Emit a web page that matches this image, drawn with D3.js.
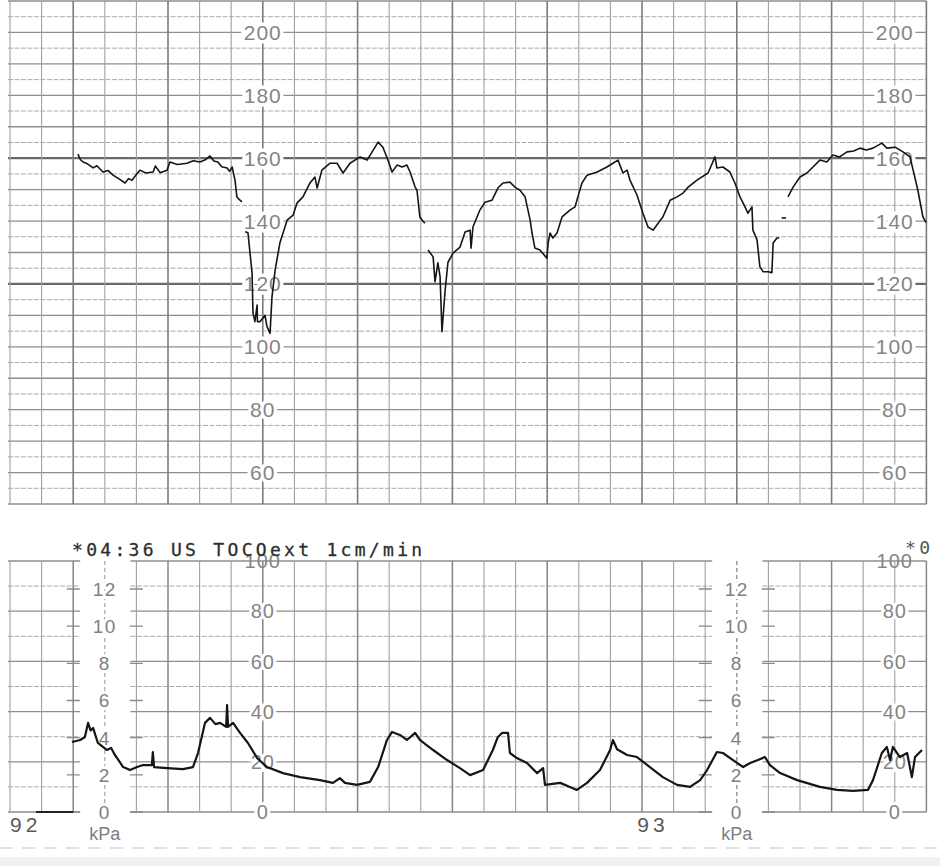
<!DOCTYPE html>
<html>
<head>
<meta charset="utf-8">
<script src="https://cdn.jsdelivr.net/npm/d3@7"></script>
<style>
  body { margin: 0; background: #fff; }
  svg { display: block; }
</style>
</head>
<body>
<script>
var width = 940;
var height = 866;

// time in minutes (1 grid column = 1 min at 1cm/min)
var fhrTicks = [60, 80, 100, 120, 140, 160, 180, 200];
var ucTicks = [0, 20, 40, 60, 80, 100];
var kpaTicks = [0, 2, 4, 6, 8, 10, 12];
var fhrLabelCols = [8, 28];
var ucLabelCols = [8, 28];
var kpaCols = [3, 23];
var header = "*04:36 US TOCOext 1cm/min";
var pageMarks = [{t: 0, label: "92"}, {t: 19.85, label: "93"}];

// FHR trace, bpm (pieces split where the signal drops out)
var fhrSeg1 = [[2.15,161.3],[2.23,159.5],[2.31,158.8],[2.45,158.2],[2.63,156.9],[2.75,157.6],[2.94,155.6],[3.1,156.1],[3.26,154.6],[3.45,153.4],[3.64,152.1],[3.75,153.5],[3.86,153],[4.0,154.8],[4.11,156.2],[4.3,155.3],[4.53,155.6],[4.6,157.5],[4.75,155.4],[4.97,156.2],[5.06,158.8],[5.3,158],[5.6,158.4],[5.8,159.2],[6.01,158.8],[6.2,159.6],[6.33,160.7],[6.45,159.1],[6.58,158.8],[6.7,157.3],[6.87,156.9],[6.95,155.8],[7.03,157.2],[7.12,153],[7.18,147.7],[7.26,146.8],[7.34,146.1]];
var fhrSeg2 = [[7.44,136.6],[7.53,136.3],[7.66,123.5],[7.69,110.8],[7.75,108],[7.82,113.3],[7.83,108],[7.91,108],[8.07,110],[8.13,106.5],[8.23,104.3],[8.29,115.8],[8.39,124.4],[8.54,133],[8.77,140.3],[8.96,141.9],[9.08,145.7],[9.27,147.7],[9.49,152.1],[9.65,154],[9.72,150.5],[9.87,156.2],[10.13,158.4],[10.35,158.4],[10.54,155.3],[10.76,158.4],[11.08,160.4],[11.3,159.4],[11.49,162.5],[11.65,165.1],[11.8,163.5],[11.96,159.4],[12.09,155.6],[12.25,157.8],[12.41,157.2],[12.56,157.8],[12.66,155.6],[12.82,150.8],[12.88,149.8],[12.97,141.3],[13.05,140.2],[13.13,139.3]];
var fhrSeg3 = [[13.23,130.8],[13.39,128.6],[13.45,120.7],[13.54,126.7],[13.61,122.3],[13.67,104.8],[13.77,118],[13.86,126.9],[14.02,129.8],[14.24,131.7],[14.4,136.5],[14.56,137.1],[14.59,131.4],[14.65,138.1],[14.87,143.5],[15.03,146],[15.25,146.6],[15.44,150.5],[15.6,152.1],[15.82,152.4],[15.98,150.8],[16.14,149.8],[16.3,147.7],[16.46,140.3],[16.52,136.2],[16.61,131.4],[16.77,130.8],[16.99,128.2],[17.03,133],[17.09,136.2],[17.18,134.6],[17.31,136.2],[17.47,141.3],[17.72,143.5],[17.88,144.5],[17.97,147.7],[18.1,152.1],[18.26,154.6],[18.58,155.6],[18.89,157.2],[19.08,158.4],[19.24,159.4],[19.3,157.8],[19.4,155.3],[19.53,156.2],[19.62,153],[19.84,148.3],[20.03,142.5],[20.19,138.1],[20.35,137.1],[20.51,139.3],[20.66,141.3],[20.89,146.6],[21.11,147.7],[21.3,148.9],[21.46,150.8],[21.74,153],[22.09,155.3],[22.31,160.4],[22.37,156.9],[22.56,157.2],[22.78,155.6],[22.94,152.1],[23.1,147.7],[23.26,144.5],[23.35,142.5],[23.48,144.5],[23.51,137.1],[23.64,134],[23.73,125.5],[23.83,123.9],[23.99,123.9],[24.11,123.6],[24.15,133],[24.27,134.6],[24.34,134.6]];
var fhrDash = [[24.42,141],[24.56,141]];
var fhrSeg4 = [[24.62,147.7],[24.78,150.8],[25.0,154],[25.22,155.3],[25.41,157.2],[25.63,159.4],[25.85,158.8],[26.04,161],[26.25,160.4],[26.49,162],[26.7,162.3],[26.9,163.2],[27.1,162.6],[27.31,163.2],[27.59,164.8],[27.75,163.2],[28.01,163.5],[28.26,162],[28.48,160.4],[28.58,156.2],[28.73,149.8],[28.89,141.3],[28.99,139.5]];

// uterine activity (TOCO, relative units 0-100)
var ucTrace = [[1.96,27.9],[2.22,28.7],[2.37,29.9],[2.47,35.5],[2.55,32.5],[2.63,33.5],[2.78,27.5],[3.07,24.7],[3.2,25.5],[3.32,22.7],[3.39,21.5],[3.58,17.9],[3.8,16.7],[4.02,17.9],[4.21,18.7],[4.49,18.7],[4.52,23.9],[4.56,17.9],[4.97,17.5],[5.47,17.1],[5.79,17.9],[5.95,23.5],[6.17,35.5],[6.33,37.5],[6.5,35],[6.65,35.5],[6.84,33.9],[6.87,42.6],[6.9,33.9],[7.06,35.5],[7.28,31.5],[7.53,27.5],[7.82,21.5],[8.13,17.9],[8.64,15.5],[9.18,13.9],[9.81,12.7],[10.22,11.6],[10.44,13.5],[10.6,11.6],[10.98,10.8],[11.39,12],[11.65,17.9],[11.93,28.7],[12.09,31.9],[12.34,30.7],[12.56,28.7],[12.82,31.5],[12.97,28.7],[13.39,24.7],[13.83,20.7],[14.24,17.5],[14.56,14.7],[14.97,16.7],[15.28,24.7],[15.44,29.9],[15.57,31.5],[15.76,31.5],[15.82,23.5],[16.04,21.5],[16.36,19.5],[16.68,15.5],[16.87,17.5],[16.93,10.8],[17.41,11.6],[17.72,10],[17.94,8.8],[18.26,11.6],[18.67,16.7],[18.99,24.7],[19.08,28.7],[19.21,25],[19.53,22.7],[19.84,21.9],[20.25,17.9],[20.66,13.9],[21.11,10.8],[21.52,10],[21.84,12.7],[22.06,16.7],[22.37,23.9],[22.56,23.5],[22.88,20.7],[23.2,17.9],[23.42,19.5],[23.67,20.7],[23.89,21.9],[24.05,18.7],[24.37,15.5],[24.91,12.7],[25.63,10],[26.17,8.8],[26.68,8.4],[27.15,8.8],[27.31,12.7],[27.59,23.5],[27.75,25.9],[27.85,20.7],[27.94,25.9],[28.16,21.9],[28.39,23.5],[28.54,13.9],[28.64,21.9],[28.86,24.7]];

var svg = d3.select("body").append("svg")
  .attr("width", width)
  .attr("height", height)
  .style("font-family", "'Liberation Sans', Arial, sans-serif");

var x = d3.scaleLinear().domain([0, 29]).range([10, 926.4]);
var yF = d3.scaleLinear().domain([50, 210]).range([504, 1]);
var yU = d3.scaleLinear().domain([0, 100]).range([812, 561]);
var yK = d3.scaleLinear().domain([0, 12]).range([812, 589]);

var cols = d3.range(0, 30);

// paper edge at the bottom
svg.append("rect").attr("x", 0).attr("y", 857).attr("width", width).attr("height", 9).attr("fill", "#f1f1f1");
svg.append("line").attr("x1", 0).attr("x2", width).attr("y1", 848).attr("y2", 848)
  .attr("stroke", "#c4c4c4").attr("stroke-dasharray", "13,9").attr("stroke-width", 1.2);

/* ---------- FHR grid ---------- */
var gF = svg.append("g");
gF.selectAll("line.h")
  .data(d3.range(50, 211, 5))
  .enter().append("line")
  .attr("x1", 8).attr("x2", x(29))
  .attr("y1", function(d) { return yF(d); })
  .attr("y2", function(d) { return yF(d); })
  .attr("stroke", function(d) {
    if (d == 160 || d == 120) return "#6a6a6a";
    return d % 10 == 0 ? "#8e8e8e" : "#ababab";
  })
  .attr("stroke-width", function(d) { return (d == 160 || d == 120) ? 2.2 : (d % 10 == 0 ? 1.3 : 1); })
  .attr("stroke-dasharray", function(d) { return d % 10 == 0 ? null : "5,1.5"; });

gF.selectAll("line.v")
  .data(cols)
  .enter().append("line")
  .attr("x1", function(d) { return x(d); })
  .attr("x2", function(d) { return x(d); })
  .attr("y1", yF(210)).attr("y2", yF(50))
  .attr("stroke", function(d) { return d % 3 == 2 ? "#7c7c7c" : "#a0a0a0"; })
  .attr("stroke-width", function(d) { return d % 3 == 2 ? 1.6 : 1.1; });

fhrLabelCols.forEach(function(c) {
  gF.selectAll(null)
    .data(fhrTicks)
    .enter().append("text")
    .attr("x", x(c))
    .attr("y", function(d) { return yF(d); })
    .attr("dy", "0.36em")
    .attr("text-anchor", "middle")
    .attr("font-size", 21)
    .attr("letter-spacing", 1)
    .attr("fill", "#858585")
    .attr("stroke", "#fff")
    .attr("stroke-width", 7)
    .attr("paint-order", "stroke")
    .text(function(d) { return d; });
});

/* ---------- TOCO grid ---------- */
var gU = svg.append("g");
var bands = kpaCols.map(function(c) { return [x(c - 1) + 7, x(c + 1) - 6]; });

gU.selectAll("path.h")
  .data(d3.range(0, 101, 10))
  .enter().append("path")
  .attr("d", function(d) {
    var yy = yU(d);
    var p = "M8," + yy;
    bands.forEach(function(b) { p += "H" + b[0] + "M" + b[1] + "," + yy; });
    return p + "H" + x(29);
  })
  .attr("fill", "none")
  .attr("stroke", function(d) { return d % 20 == 0 ? "#8e8e8e" : "#ababab"; })
  .attr("stroke-width", function(d) { return d % 20 == 0 ? 1.3 : 1; })
  .attr("stroke-dasharray", function(d) { return d % 20 == 0 ? null : "5,1.5"; });

gU.selectAll("line.v")
  .data(cols)
  .enter().append("line")
  .attr("x1", function(d) { return x(d); })
  .attr("x2", function(d) { return x(d); })
  .attr("y1", yU(100)).attr("y2", yU(0))
  .attr("stroke", function(d) { return kpaCols.indexOf(d) >= 0 ? "#9a9a9a" : (d % 3 == 2 ? "#858585" : "#a0a0a0"); })
  .attr("stroke-width", function(d) { return d % 3 == 2 ? 1.5 : 1.1; })
  .attr("stroke-dasharray", function(d) { return kpaCols.indexOf(d) >= 0 ? "4,3" : null; });

// kPa scales
kpaCols.forEach(function(c) {
  var g = gU.append("g");
  g.selectAll("path")
    .data(kpaTicks)
    .enter().append("path")
    .attr("d", function(d) {
      var yy = yK(d);
      return "M" + (x(c) - 38) + "," + yy + "H" + (x(c) - 25) + "M" + (x(c) + 25) + "," + yy + "H" + (x(c) + 38);
    })
    .attr("stroke", "#8a8a8a")
    .attr("stroke-width", 1.4);
  g.selectAll("text")
    .data(kpaTicks)
    .enter().append("text")
    .attr("x", x(c))
    .attr("y", function(d) { return yK(d); })
    .attr("dy", "0.36em")
    .attr("text-anchor", "middle")
    .attr("font-size", 19)
    .attr("letter-spacing", 1.5)
    .attr("fill", "#808080")
    .attr("stroke", "#fff")
    .attr("stroke-width", 6)
    .attr("paint-order", "stroke")
    .text(function(d) { return d; });
  g.append("text")
    .attr("x", x(c)).attr("y", 840)
    .attr("text-anchor", "middle")
    .attr("font-size", 18)
    .attr("fill", "#808080")
    .text("kPa");
});

// header printed by the monitor
svg.append("text")
  .attr("x", 72).attr("y", 556)
  .attr("font-family", "'DejaVu Sans Mono', monospace")
  .attr("font-size", 18)
  .attr("letter-spacing", 3.3)
  .attr("fill", "#2e2e2e")
  .attr("stroke", "#2e2e2e")
  .attr("stroke-width", 0.3)
  .text(header);
svg.append("text")
  .attr("x", 905).attr("y", 554)
  .attr("font-family", "'DejaVu Sans Mono', monospace")
  .attr("font-size", 18)
  .attr("letter-spacing", 3.3)
  .attr("fill", "#555")
  .text("*0");

ucLabelCols.forEach(function(c) {
  gU.selectAll(null)
    .data(ucTicks)
    .enter().append("text")
    .attr("x", x(c))
    .attr("y", function(d) { return yU(d); })
    .attr("dy", "0.36em")
    .attr("text-anchor", "middle")
    .attr("font-size", 20)
    .attr("letter-spacing", 1)
    .attr("fill", "#858585")
    .attr("stroke", "#fff")
    .attr("stroke-width", 6)
    .attr("stroke-opacity", function(d) { return d == 100 ? 0 : 1; })
    .attr("paint-order", "stroke")
    .text(function(d) { return d; });
});

// page numbers
svg.selectAll("text.page")
  .data(pageMarks)
  .enter().append("text")
  .attr("x", function(d) { return x(d.t); })
  .attr("y", 832)
  .attr("font-size", 21)
  .attr("letter-spacing", 4)
  .attr("fill", "#5a5a5a")
  .text(function(d) { return d.label; });
svg.append("line")
  .attr("x1", x(0.82)).attr("x2", x(2))
  .attr("y1", yU(0)).attr("y2", yU(0))
  .attr("stroke", "#222").attr("stroke-width", 2);

/* ---------- traces ---------- */
var lineF = d3.line()
  .x(function(d) { return x(d[0]); })
  .y(function(d) { return yF(d[1]); });
var lineU = d3.line()
  .x(function(d) { return x(d[0]); })
  .y(function(d) { return yU(d[1]); });

svg.selectAll("path.fhr")
  .data([fhrSeg1, fhrSeg2, fhrSeg3, fhrDash, fhrSeg4])
  .enter().append("path")
  .attr("d", lineF)
  .attr("fill", "none")
  .attr("stroke", "#151515")
  .attr("stroke-width", 1.6)
  .attr("stroke-linejoin", "round");

svg.append("path")
  .attr("d", lineU(ucTrace))
  .attr("fill", "none")
  .attr("stroke", "#151515")
  .attr("stroke-width", 2.2)
  .attr("stroke-linejoin", "round");
</script>
</body>
</html>
